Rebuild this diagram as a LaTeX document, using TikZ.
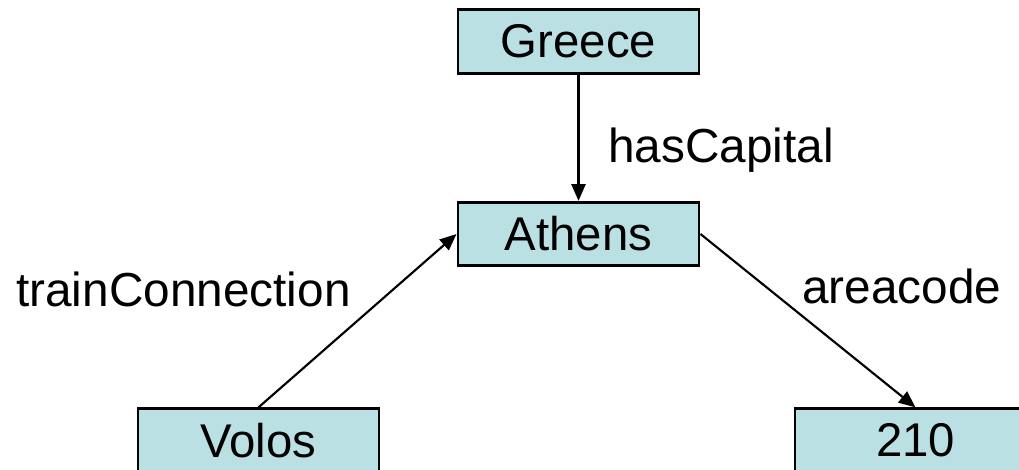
\documentclass[tikz,border=0pt]{standalone}
\usepackage{fontspec}
\setmainfont{Liberation Sans}
\usetikzlibrary{arrows.meta}
\definecolor{boxfill}{RGB}{187,224,227}
\begin{document}
\begin{tikzpicture}[x=0.75pt,y=-0.75pt,
  term/.style={draw=black, line width=2.2pt, fill=boxfill,
    minimum width=180.75pt, minimum height=47.5pt, inner sep=0pt,
    font=\fontsize{35.5}{42}\selectfont},
  rel/.style={line width=1.6pt, -{Triangle[length=12.5pt,width=10.5pt]}},
  lbl/.style={anchor=base west, inner sep=0pt, font=\fontsize{35.8}{42}\selectfont}]
\useasboundingbox (0,0) rectangle (1019,469);
\clip (0,0) rectangle (1019,469);
% resources
\node[term] (greece) at (578.5,41.5) {Greece};
\node[term] (athens) at (578.5,234) {Athens};
\node[term] (volos) at (258.5,440.5) {Volos};
\node[term] (code) at (915.5,440.5) {210};
% properties
\draw[rel] (greece) -- (athens);
\draw[rel] (volos.north) -- (athens.west);
\draw[rel] (athens.east) -- (code.north);
% property names
\node[lbl] (lcap) at (608,162) {hasCapital};
\node[lbl] (ltrain) at (16,306) {trainConnection};
\node[lbl] (larea) at (802,303) {areacode};
\end{tikzpicture}
\end{document}
